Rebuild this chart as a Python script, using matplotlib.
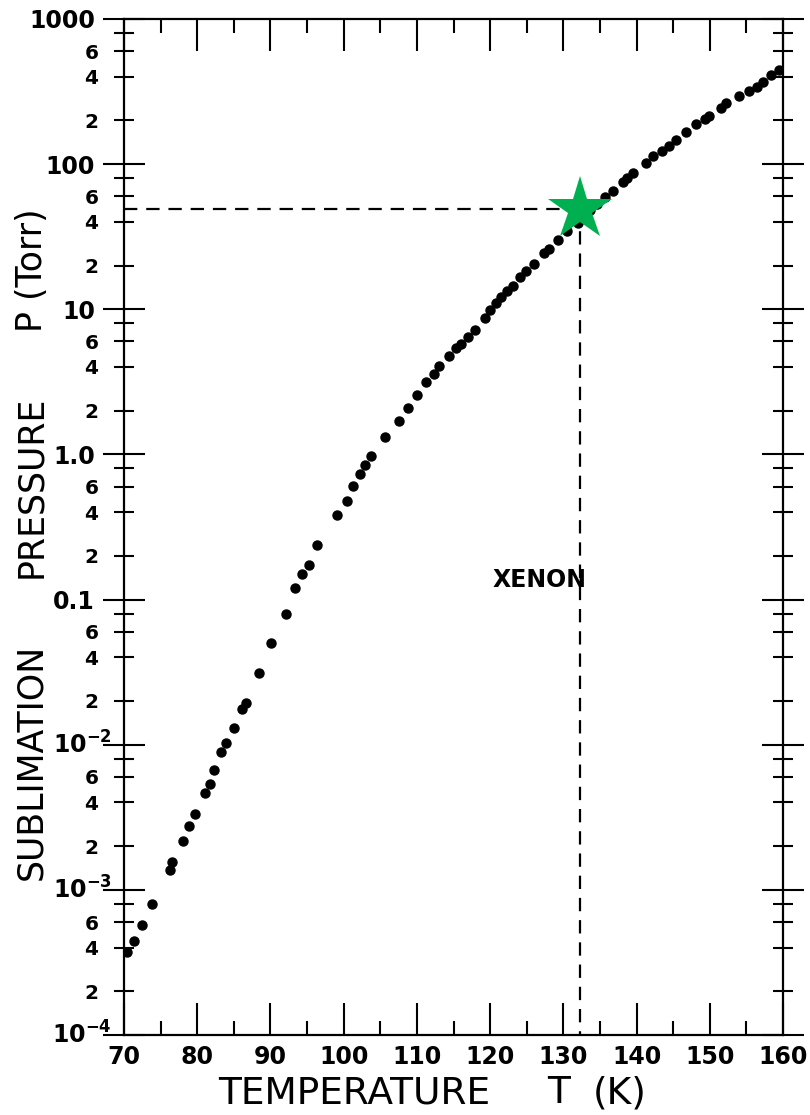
#xenon sublimation pressure vs temperature, log scale
import matplotlib.pyplot as plt
from matplotlib.ticker import FixedLocator
from matplotlib.transforms import blended_transform_factory

plt.rcParams['font.family'] = ['DejaVu Sans']
plt.rcParams['mathtext.fontset'] = 'dejavusans'

#data
temp_k = [70.4, 71.4, 72.4, 73.8, 76.3, 76.6, 78.1, 78.9, 79.7, 81.0,
          81.7, 82.3, 83.2, 83.9, 85.0, 86.1, 86.6, 88.4, 90.1, 92.1,
          93.3, 94.3, 95.3, 96.3, 99.1, 100.4, 101.3, 102.2, 102.9, 103.7,
          105.6, 107.6, 108.8, 110.0, 111.2, 112.3, 113.0, 114.4, 115.3, 116.0,
          117.0, 118.0, 119.3, 120.0, 120.8, 121.5, 122.3, 123.1, 124.1, 124.9,
          126.0, 127.4, 128.0, 129.3, 130.5, 132.0, 133.6, 134.6, 135.7, 136.8,
          138.1, 138.7, 139.5, 141.3, 142.3, 143.5, 144.4, 145.4, 146.7, 148.1,
          149.3, 149.9, 151.5, 152.2, 154.0, 155.3, 156.5, 157.3, 158.4, 159.4]
p_torr = [3.75e-4, 4.42e-4, 5.73e-4, 8.03e-4, 1.36e-3, 1.56e-3, 2.18e-3, 2.75e-3, 3.33e-3, 4.62e-3,
          5.36e-3, 6.66e-3, 8.87e-3, 1.02e-2, 1.31e-2, 1.76e-2, 1.95e-2, 3.12e-2, 5.04e-2, 7.95e-2,
          0.121, 0.151, 0.174, 0.239, 0.380, 0.479, 0.609, 0.733, 0.841, 0.972,
          1.32, 1.69, 2.08, 2.58, 3.15, 3.57, 4.09, 4.77, 5.41, 5.79,
          6.47, 7.23, 8.67, 9.93, 11.1, 12.1, 13.4, 14.5, 16.7, 18.4,
          20.6, 24.3, 26.2, 29.9, 34.8, 39.3, 48.3, 53.1, 59.8, 64.8,
          75.3, 80.3, 86.5, 101.8, 112.9, 123.6, 133.4, 145.6, 166.0, 189.1,
          203.1, 213.6, 242.5, 261.7, 296.1, 319.1, 338.3, 367.0, 408.1, 441.8]

star_t = 132.3                       #highlighted point
star_p = 49.0

x_ticks = [70, 80, 90, 100, 110, 120, 130, 140, 150, 160]
x_labels = ['70', '80', '90', '100', '110', '120', '130', '140', '150', '160']
x_minor = [75, 85, 95, 105, 115, 125, 135, 145, 155]

y_ticks = [1e-4, 1e-3, 1e-2, 0.1, 1, 10, 100, 1000]
y_labels = ['', '', '', '0.1', '1.0', '10', '100', '1000']
exp_ticks = [1e-4, 1e-3, 1e-2]        #these get a power-of-ten label
exp_labels = [r'$\mathbf{10^{-4}}$', r'$\mathbf{10^{-3}}$', r'$\mathbf{10^{-2}}$']
minor_mult = [2, 4, 6, 8]
minor_text = ['2', '4', '6', '']

fig = plt.figure(figsize=(8.1, 11.15), dpi=100)
ax = fig.add_axes([0.1531, 0.0718, 0.8136, 0.9112])

ax.plot(temp_k, p_torr, 'o', color='black', markersize=6.5, zorder=3)

#dashed guide lines to the star
ax.plot([70, star_t], [star_p, star_p], color='black', lw=1.6, dashes=(6, 4))
ax.plot([star_t, star_t], [star_p, 1e-4], color='black', lw=1.6, dashes=(6, 4))
ax.plot(star_t, star_p, marker='*', markersize=48, color='#00b050',
        markeredgewidth=0, zorder=5)

ax.text(126.7, 0.136, 'XENON', fontsize=17, fontweight='bold',
        ha='center', va='center')

ax.set_yscale('log')
ax.set_xlim(70, 160)
ax.set_ylim(1e-4, 1000)

ax.set_xticks(x_ticks, labels=x_labels, fontsize=17, fontweight='bold')
ax.set_xticks(x_minor, minor=True)
ax.yaxis.set_major_locator(FixedLocator(y_ticks))
ax.set_yticks(y_ticks, labels=y_labels, fontsize=17, fontweight='bold')
y_minor = []
y_minor_labels = []
for d in y_ticks[:-1]:
    for m, t in zip(minor_mult, minor_text):
        y_minor.append(m * d)
        y_minor_labels.append(t)
ax.set_yticks(y_minor, labels=y_minor_labels, minor=True, fontsize=14.5,
              fontweight='bold')

ax.tick_params(axis='x', which='major', direction='in', length=23, width=1.5,
               top=True, pad=7)
ax.tick_params(axis='x', which='minor', direction='in', length=10, width=1.5,
               top=True)
ax.tick_params(axis='y', which='major', direction='inout', length=30, width=1.5,
               right=True, pad=6)
ax.tick_params(axis='y', which='minor', direction='inout', length=15, width=1.5,
               right=True, pad=11)
for s in ax.spines.values():
    s.set_linewidth(1.6)

#power of ten labels, written closer to the axis like the original
trans = blended_transform_factory(ax.transAxes, ax.transData)
for v, lab in zip(exp_ticks, exp_labels):
    ax.annotate(lab, xy=(0, v), xycoords=trans, xytext=(-12, -9),
                textcoords='offset pixels', ha='right', va='baseline',
                fontsize=17, annotation_clip=False)

#axis titles
fig.text(0.039, 0.758, 'P (Torr)', rotation=90, fontsize=25, ha='center', va='center')
fig.text(0.039, 0.563, 'PRESSURE', rotation=90, fontsize=25, ha='center', va='center')
fig.text(0.039, 0.317, 'SUBLIMATION', rotation=90, fontsize=25, ha='center', va='center')
fig.text(0.437, 0.0197, 'TEMPERATURE', fontsize=27, ha='center', va='center')
fig.text(0.689, 0.0197, 'T', fontsize=27, ha='center', va='center')
fig.text(0.765, 0.0197, '(K)', fontsize=27, ha='center', va='center')

fig.savefig('out.png', dpi=100)
